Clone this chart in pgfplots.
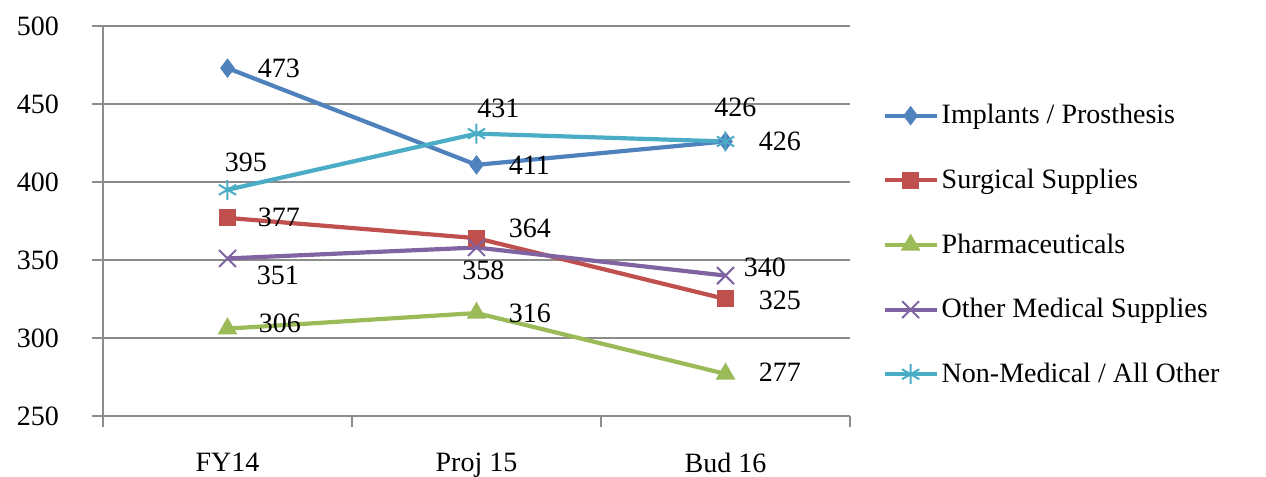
\documentclass[border=0pt]{standalone}
\usepackage{fontspec}
\setmainfont{Liberation Serif}
\usepackage{pgfplots}
\pgfplotsset{compat=1.18}
\definecolor{cBlue}{HTML}{4F81BD}
\definecolor{cRed}{HTML}{C0504D}
\definecolor{cGreen}{HTML}{9BBB59}
\definecolor{cPurple}{HTML}{8064A2}
\definecolor{cCyan}{HTML}{4BACC6}
\definecolor{gridgray}{HTML}{8C8C8C}
% value label: x, y (value), anchor, xshift, yshift
\newcommand{\lbl}[5]{\node[anchor=#3,inner sep=0pt,xshift=#4,yshift=#5] at (axis cs:#1,#2) {#2};}
\begin{document}
\begin{tikzpicture}[font=\fontsize{14}{16.8}\selectfont]
\useasboundingbox (-51.5pt,-30.5pt) rectangle (581.5pt,208pt);
\begin{axis}[
  scale only axis, width=373.5pt, height=195pt,
  at={(0,0)}, anchor=south west,
  xmin=-0.5, xmax=2.5, ymin=250, ymax=500,
  axis x line*=bottom, axis y line*=left,
  axis line style={draw=gridgray, line width=0.8pt, -},
  tick style={draw=gridgray, line width=0.8pt},
  tick align=outside, major tick length=5.5pt,
  ytick={250,300,...,500},
  ymajorgrids, grid style={draw=gridgray, line width=0.8pt},
  yticklabel style={anchor=east, xshift=-13pt},
  xtick={-0.5,0.5,1.5,2.5}, xticklabels={},
  extra x ticks={0,1,2},
  extra x tick labels={FY14, Proj 15, Bud 16},
  extra x tick style={major tick length=0pt, xticklabel style={yshift=-15pt}},
  /pgf/number format/assume math mode=true,
  every axis plot/.append style={line width=2.1pt},
  legend style={at={(rel axis cs:1.043,0.4385)}, anchor=west, draw=none, fill=none,
    row sep=17.1pt, inner sep=0pt, font=\fontsize{14}{16.8}\selectfont,
    nodes={inner xsep=1.5pt}},
  legend cell align=left,
  legend image code/.code={\draw[mark repeat=2,mark phase=2] plot coordinates {(0pt,0pt) (13pt,0pt) (26pt,0pt)};},
  clip=false,
]
\addplot[cBlue, mark=diamond*, mark size=4.5pt, mark options={solid, line width=0.5pt}] coordinates {(0,473) (1,411) (2,426)};
\addlegendentry{Implants / Prosthesis}
\addplot[cRed, mark=square*, mark size=4pt, mark options={solid, line width=0.5pt}] coordinates {(0,377) (1,364) (2,325)};
\addlegendentry{Surgical Supplies}
\addplot[cGreen, mark=triangle*, mark size=5.2pt, mark options={solid, line width=0.5pt}] coordinates {(0,306) (1,316) (2,277)};
\addlegendentry{Pharmaceuticals}
\addplot[cPurple, mark=x, mark size=6pt, mark options={line width=1pt}] coordinates {(0,351) (1,358) (2,340)};
\addlegendentry{Other Medical Supplies}
\addplot[cCyan, mark=asterisk, mark size=5pt, mark options={line width=1pt}] coordinates {(0,395) (1,431) (2,426)};
\addlegendentry{Non-Medical / All Other}
% value labels
\lbl{0}{473}{west}{15pt}{0pt}
\lbl{1}{411}{west}{16pt}{0pt}
\lbl{2}{426}{west}{16.5pt}{0pt}
\lbl{0}{377}{west}{15pt}{0.5pt}
\lbl{1}{364}{west}{16pt}{5pt}
\lbl{2}{325}{west}{16.5pt}{-0.5pt}
\lbl{0}{306}{west}{15.5pt}{2.8pt}
\lbl{1}{316}{west}{16pt}{0pt}
\lbl{2}{277}{west}{16.5pt}{1pt}
\lbl{0}{351}{west}{14.5pt}{-8.3pt}
\lbl{1}{358}{center}{3.5pt}{-11.25pt}
\lbl{2}{340}{west}{9pt}{4.3pt}
\lbl{0}{395}{center}{9.25pt}{13.5pt}
\lbl{1}{431}{center}{11pt}{12.8pt}
\lbl{2}{426}{center}{5pt}{17.2pt}
\end{axis}
\end{tikzpicture}
\end{document}
